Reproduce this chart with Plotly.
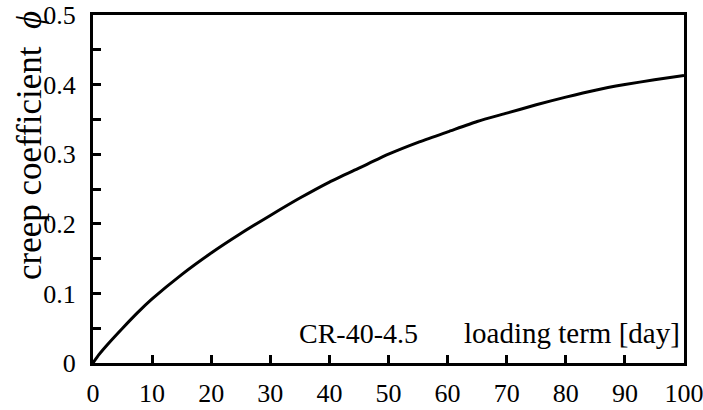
import plotly.graph_objects as go

# Creep coefficient development for specimen CR-40-4.5
days = [0, 1, 2.5, 5, 7.5, 10, 15, 20, 25, 30, 35, 40, 45, 50, 55, 60,
        65, 70, 75, 80, 85, 90, 95, 100]
creep = [0.0, 0.012, 0.027, 0.050, 0.072, 0.092, 0.127, 0.158, 0.186, 0.212,
         0.237, 0.260, 0.280, 0.300, 0.317, 0.332, 0.347, 0.359, 0.371,
         0.382, 0.392, 0.400, 0.407, 0.413]

x_ticks = [0, 10, 20, 30, 40, 50, 60, 70, 80, 90, 100]
y_ticks = [0, 0.1, 0.2, 0.3, 0.4, 0.5]
y_tick_text = ["0", "0.1", "0.2", "0.3", "0.4", "0.5"]

specimen = "CR-40-4.5"
x_title = "loading term [day]"
y_title = "creep coefficient  <i>ϕ</i>"

FONT = "Liberation Serif, Times New Roman, serif"

fig = go.Figure()
fig.add_trace(go.Scatter(
    x=days, y=creep, mode="lines",
    line=dict(color="black", width=3, shape="spline", smoothing=0.6),
    hoverinfo="skip", showlegend=False,
))

fig.update_layout(
    width=703, height=410,
    margin=dict(l=93, r=19, t=15, b=47, autoexpand=False),
    paper_bgcolor="white", plot_bgcolor="white",
    font=dict(family=FONT, size=26, color="black"),
    xaxis=dict(
        range=[0, 100], tickvals=x_ticks, ticktext=[str(v) for v in x_ticks],
        ticks="inside", ticklen=8, tickwidth=2.5, tickcolor="black",
        showline=True, linewidth=3, linecolor="black", mirror=True,
        showgrid=False, zeroline=False, ticklabelstandoff=5,
        automargin=False, ticklabeloverflow="allow",
        tickfont=dict(family=FONT, size=26),
    ),
    yaxis=dict(
        range=[0, 0.5], tickvals=y_ticks, ticktext=y_tick_text,
        ticks="inside", ticklen=8, tickwidth=2.5, tickcolor="black",
        minor=dict(dtick=0.05, tick0=0, ticks="inside", ticklen=8,
                   tickwidth=2.5, tickcolor="black", showgrid=False),
        showline=True, linewidth=3, linecolor="black", mirror=True,
        showgrid=False, zeroline=False, ticklabelstandoff=9,
        automargin=False, ticklabeloverflow="allow",
        tickfont=dict(family=FONT, size=26),
    ),
    annotations=[
        dict(text=specimen, x=45, y=0.043, xref="x", yref="y",
             showarrow=False, font=dict(family=FONT, size=28)),
        dict(text=x_title, x=100, y=0.043, xref="x", yref="y",
             xanchor="right", xshift=-2, showarrow=False,
             font=dict(family=FONT, size=29)),
        dict(text=y_title, x=0, y=0, xref="paper", yref="paper",
             xanchor="center", yanchor="middle",
             showarrow=False, textangle=-90,
             font=dict(family=FONT, size=35)),
    ],
)

# place the rotated axis title in pixel terms
plot_w = 703 - 93 - 19
plot_h = 410 - 15 - 47
fig.layout.annotations[2].x = (30 - 93) / plot_w
fig.layout.annotations[2].y = (410 - 47 - 146) / plot_h

fig.write_html("out.html")
